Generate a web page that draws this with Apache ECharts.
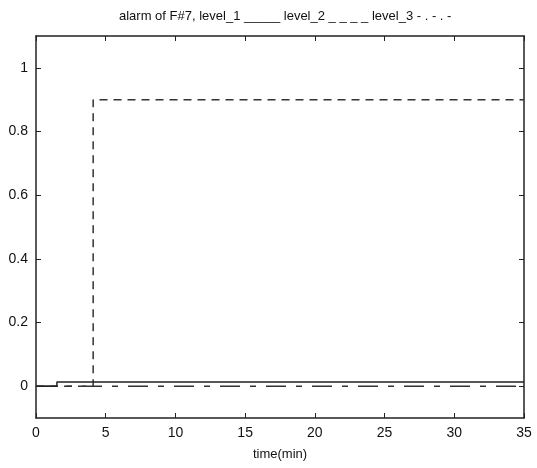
<!DOCTYPE html>
<html>
<head>
<meta charset="utf-8">
<script src="https://cdn.jsdelivr.net/npm/echarts@6/dist/echarts.min.js"></script>
<style>html,body{margin:0;padding:0;background:#fff}#c{width:537px;height:468px}</style>
</head>
<body>
<div id="c"></div>
<script>
var titleText = 'alarm of F#7, level_1 _____ level_2 _ _ _ _ level_3 - . - . -';
var xLabel = 'time(min)';
var level1X = [0, 1.5, 1.5, 35];
var level1Y = [0, 0, 0.013, 0.013];
var level2X = [0, 4.1, 4.1, 35];
var level2Y = [0, 0, 0.9, 0.9];
var level3X = [0, 35];
var level3Y = [0, 0];

function pairs(xs, ys){ return xs.map(function(x,i){return [x, ys[i]];}); }

var font = 'Liberation Sans, Arial, sans-serif';
var axisLine = {show:true, onZero:false, lineStyle:{color:'#222', width:1.5}};
var tick = {show:true, inside:true, length:5, lineStyle:{color:'#222'}};
var yTick = {show:true, inside:true, length:5, customValues:[0,0.2,0.4,0.6,0.8,1], lineStyle:{color:'#222'}};
var chart = echarts.init(document.getElementById('c'));
chart.setOption({
  animation:false,
  backgroundColor:'#fff',
  title:{text:titleText, left:114, top:5, textStyle:{fontFamily:font, fontSize:13, fontWeight:'normal', color:'#111'}},
  grid:{left:36, right:13, top:36, bottom:50},
  xAxis:[
    {type:'value', min:0, max:35, interval:5, axisLine:axisLine, axisTick:tick,
     axisLabel:{fontFamily:font, fontSize:14, color:'#111', margin:8},
     splitLine:{show:false},
     name:xLabel, nameLocation:'middle', nameGap:30, nameTextStyle:{fontFamily:font, fontSize:13, color:'#111'}},
    {type:'value', position:'top', min:0, max:35, interval:5, axisLine:axisLine, axisTick:tick,
     axisLabel:{show:false}, splitLine:{show:false}}
  ],
  yAxis:[
    {type:'value', min:-0.1, max:1.1, interval:0.2, axisLine:axisLine, axisTick:yTick,
     axisLabel:{fontFamily:font, fontSize:14, color:'#111', margin:8, customValues:[0,0.2,0.4,0.6,0.8,1],
       formatter:function(v){return String(Math.round(v*10)/10);}},
     splitLine:{show:false}},
    {type:'value', position:'right', min:-0.1, max:1.1, interval:0.2, axisLine:axisLine, axisTick:yTick,
     axisLabel:{show:false}, splitLine:{show:false}}
  ],
  series:[
    {type:'line', name:'level_3', data:pairs(level3X, level3Y), showSymbol:false, symbol:'none',
     lineStyle:{color:'#333', width:1.5, type:[20,10,6,10]}},
    {type:'line', name:'level_2', data:pairs(level2X, level2Y), showSymbol:false, symbol:'none',
     lineStyle:{color:'#333', width:1.5, type:[8,6]}},
    {type:'line', name:'level_1', data:pairs(level1X, level1Y), showSymbol:false, symbol:'none',
     lineStyle:{color:'#222', width:1.5, type:'solid'}}
  ]
});
</script>
</body>
</html>
